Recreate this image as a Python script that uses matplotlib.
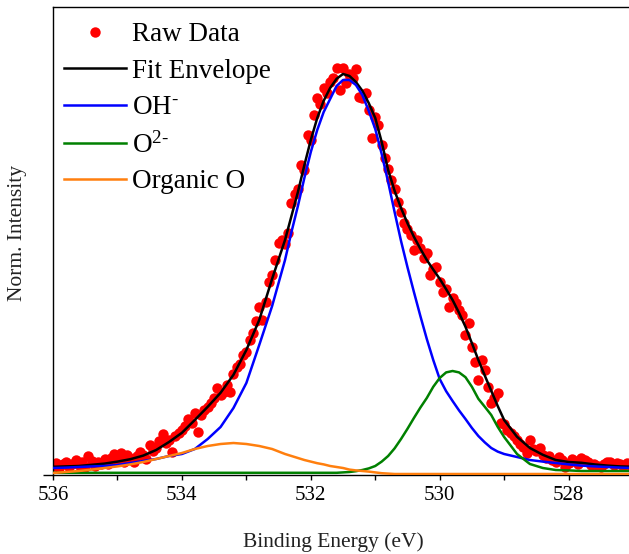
import numpy as np
import matplotlib
matplotlib.use("Agg")
import matplotlib.pyplot as plt

plt.rcParams['font.family'] = 'Liberation Serif'
plt.rcParams['mathtext.fontset'] = 'custom'
plt.rcParams['mathtext.rm'] = 'Liberation Serif'
plt.rcParams['mathtext.it'] = 'Liberation Serif:italic'

# O 1s raw spectrum, 0.05 eV steps from 536 down to 527 eV
raw_be = np.linspace(536.0, 527.0, 181)
raw_int = [
    0.020, 0.028, 0.015, 0.024, 0.031, 0.018, 0.026, 0.035, 0.022, 0.029,
    0.017, 0.045, 0.033, 0.021, 0.030, 0.026, 0.038, 0.024, 0.041, 0.050,
    0.034, 0.052, 0.029, 0.047, 0.040, 0.031, 0.044, 0.055, 0.048, 0.038,
    0.072, 0.058, 0.064, 0.083, 0.101, 0.078, 0.086, 0.056, 0.094, 0.102,
    0.110, 0.121, 0.137, 0.128, 0.152, 0.106, 0.147, 0.160, 0.168, 0.178,
    0.190, 0.215, 0.198, 0.206, 0.222, 0.205, 0.250, 0.268, 0.276, 0.298,
    0.305, 0.335, 0.352, 0.383, 0.418, 0.386, 0.430, 0.480, 0.497, 0.535,
    0.578, 0.585, 0.575, 0.603, 0.678, 0.700, 0.712, 0.772, 0.760, 0.848,
    0.835, 0.898, 0.940, 0.925, 0.965, 0.952, 0.980, 0.990, 1.015, 0.960,
    1.015, 0.978, 1.000, 0.990, 1.012, 0.943, 0.940, 0.952, 0.910, 0.840,
    0.893, 0.873, 0.822, 0.790, 0.762, 0.735, 0.712, 0.680, 0.655, 0.628,
    0.612, 0.598, 0.560, 0.585, 0.566, 0.540, 0.553, 0.498, 0.512, 0.518,
    0.480, 0.455, 0.462, 0.418, 0.440, 0.428, 0.410, 0.398, 0.348, 0.378,
    0.318, 0.280, 0.235, 0.285, 0.260, 0.218, 0.178, 0.190, 0.203, 0.128,
    0.125, 0.110, 0.103, 0.095, 0.085, 0.076, 0.068, 0.053, 0.085, 0.062,
    0.058, 0.065, 0.048, 0.040, 0.045, 0.035, 0.030, 0.042, 0.035, 0.018,
    0.028, 0.038, 0.032, 0.025, 0.040, 0.036, 0.030, 0.022, 0.026, 0.020,
    0.018, 0.024, 0.030, 0.031, 0.022, 0.027, 0.025, 0.020, 0.028, 0.023,
    0.019,
]

# fitted components
fit_be = [536.0, 535.8, 535.6, 535.4, 535.2, 535.0, 534.8, 534.6, 534.4, 534.2,
          534.0, 533.8, 533.6, 533.4, 533.2, 533.0, 532.8, 532.6, 532.4, 532.3,
          532.2, 532.1, 532.0, 531.9, 531.8, 531.7, 531.6, 531.5, 531.4, 531.3,
          531.2, 531.1, 531.0, 530.9, 530.8, 530.7, 530.6, 530.5, 530.4, 530.3,
          530.2, 530.1, 530.0, 529.9, 529.8, 529.7, 529.6, 529.5, 529.4, 529.3,
          529.2, 529.1, 529.0, 528.8, 528.6, 528.4, 528.2, 528.0, 527.8, 527.6,
          527.4, 527.2, 527.0]
envelope = [0.018, 0.019, 0.020, 0.023, 0.026, 0.031, 0.037, 0.046, 0.060, 0.080,
            0.103, 0.135, 0.168, 0.203, 0.248, 0.310, 0.385, 0.488, 0.585, 0.645,
            0.705, 0.772, 0.835, 0.890, 0.933, 0.965, 0.988, 1.000, 0.995, 0.980,
            0.958, 0.927, 0.890, 0.830, 0.760, 0.708, 0.665, 0.627, 0.593, 0.563,
            0.535, 0.511, 0.488, 0.462, 0.435, 0.403, 0.368, 0.327, 0.285, 0.246,
            0.208, 0.170, 0.135, 0.093, 0.065, 0.048, 0.035, 0.030, 0.028, 0.024,
            0.021, 0.019, 0.018]
oh = [0.015, 0.016, 0.0175, 0.019, 0.020, 0.0225, 0.0275, 0.0325, 0.0375, 0.045,
      0.050, 0.0625, 0.0875, 0.1175, 0.165, 0.2275, 0.3225, 0.420, 0.535, 0.605,
      0.670, 0.740, 0.805, 0.860, 0.905, 0.9375, 0.970, 0.985, 0.985, 0.9725,
      0.9475, 0.9075, 0.8625, 0.800, 0.730, 0.655, 0.5825, 0.517, 0.455, 0.395,
      0.3375, 0.285, 0.2375, 0.207, 0.1825, 0.159, 0.1375, 0.115, 0.095, 0.079,
      0.065, 0.056, 0.050, 0.0425, 0.035, 0.031, 0.0275, 0.024, 0.021, 0.019,
      0.0175, 0.016, 0.015]
o2 = [0.003, 0.003, 0.003, 0.003, 0.003, 0.003, 0.003, 0.003, 0.003, 0.003,
      0.003, 0.003, 0.003, 0.003, 0.003, 0.003, 0.003, 0.003, 0.003, 0.003,
      0.003, 0.003, 0.003, 0.003, 0.003, 0.003, 0.003, 0.004, 0.005, 0.007,
      0.010, 0.014, 0.020, 0.031, 0.045, 0.064, 0.0875, 0.113, 0.140, 0.166,
      0.190, 0.218, 0.240, 0.254, 0.2575, 0.254, 0.242, 0.218, 0.188, 0.168,
      0.1475, 0.118, 0.0925, 0.050, 0.025, 0.015, 0.010, 0.009, 0.0075, 0.0075,
      0.0075, 0.0075, 0.0075]
organic = [0.0025, 0.005, 0.0075, 0.011, 0.015, 0.019, 0.024, 0.030, 0.0375, 0.045,
           0.0525, 0.0625, 0.070, 0.075, 0.0775, 0.075, 0.070, 0.0625, 0.050, 0.045,
           0.040, 0.035, 0.031, 0.027, 0.024, 0.020, 0.0175, 0.015, 0.011, 0.009,
           0.0075, 0.006, 0.004, 0.002, 0.001, 0.0, 0.0, 0.0, 0.0, 0.0,
           0.0, 0.0, 0.0, 0.0, 0.0, 0.0, 0.0, 0.0, 0.0, 0.0,
           0.0, 0.0, 0.0, 0.0, 0.0, 0.0, 0.0, 0.0, 0.0, 0.0,
           0.0, 0.0, 0.0]

fig = plt.figure(figsize=(6.29, 5.54), dpi=100)
ax = fig.add_axes([0.0843, 0.1426, 0.9221, 0.8448])

ax.plot(raw_be, raw_int, 'o', color='#ff0000', ms=7.5, mew=0, label='Raw Data', zorder=1)
ax.plot(fit_be, envelope, color='black', lw=1.8, label='Fit Envelope', zorder=2)
ax.plot(fit_be, oh, color='#0000ff', lw=1.8, label=r'OH$^{\text{-}}$', zorder=3)
ax.plot(fit_be, o2, color='#008000', lw=1.8, label=r'O$^{2\text{-}}$', zorder=4)
ax.plot(fit_be, organic, color='#ff7f0e', lw=1.8, label='Organic O', zorder=5)

ax.set_xlim(536, 527)
ax.set_ylim(-0.0025, 1.1675)
ax.set_xticks([536, 534, 532, 530, 528])
ax.set_xticks([535, 533, 531, 529], minor=True)
ax.set_yticks([-0.0025])
ax.set_yticklabels([])
ax.tick_params(axis='x', which='both', direction='out', length=3.6, width=1,
               labelsize=15, pad=4)
ax.tick_params(axis='y', direction='out', length=7, width=1)
for sp in ax.spines.values():
    sp.set_linewidth(1.0)

ax.set_xlabel('Binding Energy (eV)', fontsize=15.5, color='#222222')
ax.xaxis.set_label_coords(0.484, -0.122)
ax.set_ylabel('Norm. Intensity', fontsize=15.5, color='#222222')
ax.yaxis.set_label_coords(-0.045, 0.517)

ax.legend(loc='upper left', bbox_to_anchor=(0.0, 0.99), borderaxespad=0,
          frameon=False, fontsize=19.5, handlelength=2.3, handletextpad=0.22,
          labelspacing=0.42, numpoints=1)

fig.savefig('out.png', dpi=100)
